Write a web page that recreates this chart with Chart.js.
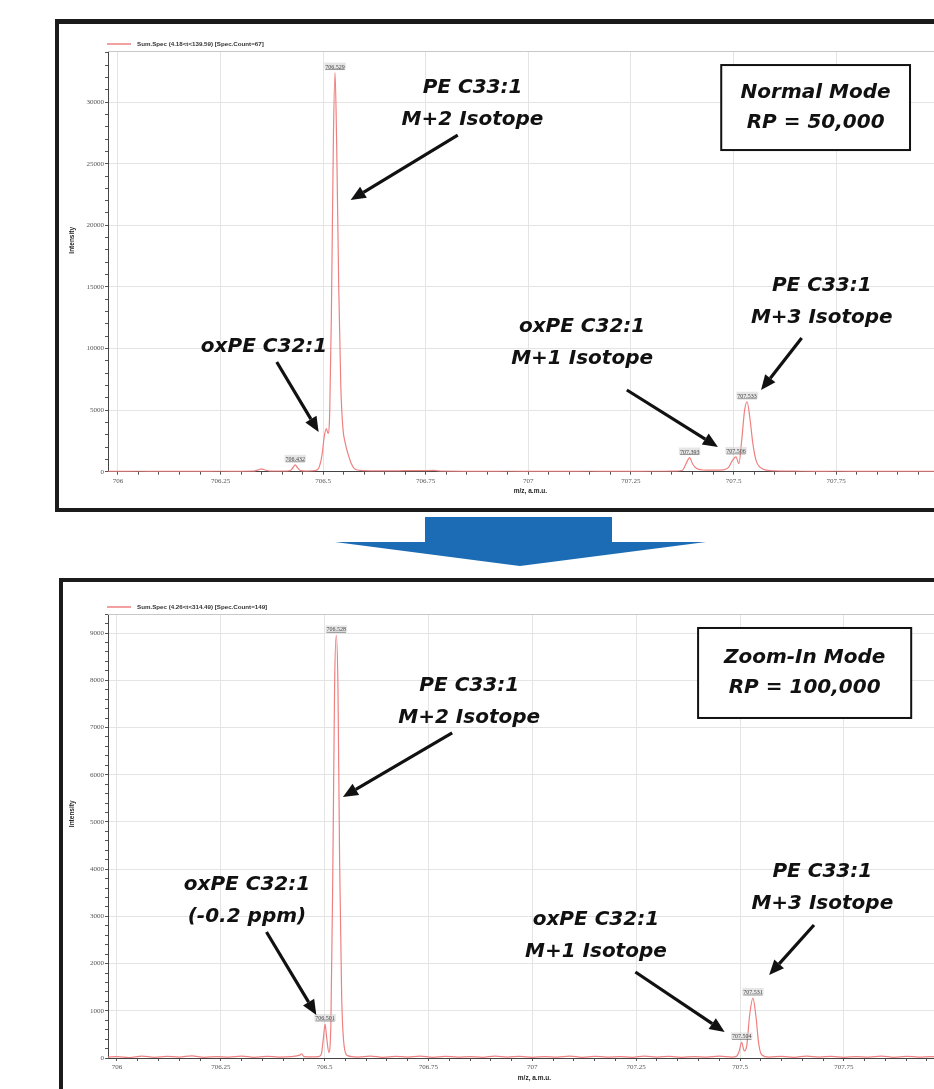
<!DOCTYPE html>
<html>
<head>
<meta charset="utf-8">
<script src="https://cdn.jsdelivr.net/npm/chart.js@4.4.1/dist/chart.umd.min.js"></script>
<style>
  html, body { margin: 0; padding: 0; background: #fff; }
  body { width: 934px; height: 1089px; overflow: hidden; position: relative; }
  .frame { position: absolute; border: 4px solid #1b1b1b; background: #fff; box-sizing: border-box; }
  #f1 { left: 55px; top: 19px; width: 940px; height: 493px; border-top-width: 5px; }
  #f2 { left: 59px; top: 578px; width: 940px; height: 560px; }
  canvas { position: absolute; }
  #c1 { left: 59px; top: 24px; }
  #c2 { left: 63px; top: 582px; }
  svg { position: absolute; left: 0; top: 0; }
</style>
</head>
<body>
<div class="frame" id="f1"></div>
<div class="frame" id="f2"></div>
<svg width="934" height="1089">
  <polygon points="425,517 612,517 612,542 706,542 520,566 335,542 425,542" fill="#1b6cb5"/>
</svg>
<canvas id="c1" width="887" height="484"></canvas>
<canvas id="c2" width="892" height="507"></canvas>

<script>
// ---- Normal mode (RP 50,000) profile spectrum: m/z and intensity ----
const normalMz = [
  705.976, 706.00, 706.05, 706.10, 706.15, 706.20, 706.25, 706.30, 706.33, 706.342,
  706.350, 706.358, 706.37, 706.40, 706.420, 706.426, 706.432, 706.438, 706.445, 706.46,
  706.48, 706.490, 706.497, 706.503, 706.508, 706.512, 706.516, 706.520, 706.525, 706.529,
  706.533, 706.538, 706.543, 706.548, 706.554, 706.561, 706.568, 706.576, 706.59, 706.62,
  706.66, 706.70, 706.74, 706.77, 706.79, 706.85, 706.90, 706.95, 707.00, 707.05,
  707.10, 707.15, 707.20, 707.25, 707.30, 707.35, 707.375, 707.385, 707.393, 707.400,
  707.41, 707.425, 707.45, 707.475, 707.488, 707.497, 707.506, 707.513, 707.520, 707.527,
  707.533, 707.540, 707.547, 707.555, 707.565, 707.58, 707.60, 707.65, 707.70, 707.75,
  707.80, 707.85, 707.90, 707.95, 708.00
];
const normalIntensity = [
  30, 25, 35, 20, 30, 25, 35, 30, 40, 150,
  230, 140, 50, 40, 90, 300, 560, 300, 90, 50,
  80, 350, 1300, 2900, 3500, 3100, 4800, 12500, 27000, 32400,
  26500, 15000, 7000, 3600, 2300, 1400, 700, 250, 110, 70,
  60, 80, 90, 100, 40, 30, 25, 35, 30, 25,
  30, 35, 25, 30, 35, 40, 120, 700, 1150, 650,
  250, 140, 120, 150, 350, 900, 1200, 650, 2600, 5000,
  5680, 4300, 2300, 900, 350, 130, 60, 40, 30, 35,
  30, 25, 30, 25, 30
];
const normalPeaks = [706.432, 706.529, 707.393, 707.506, 707.533];

// ---- Zoom-in mode (RP 100,000) profile spectrum ----
const zoomMz = [
  705.9785, 706.00, 706.03, 706.06, 706.09, 706.12, 706.15, 706.18, 706.21, 706.24,
  706.27, 706.30, 706.33, 706.36, 706.39, 706.42, 706.44, 706.445, 706.45, 706.47,
  706.485, 706.492, 706.497, 706.501, 706.505, 706.510, 706.515, 706.520, 706.524, 706.528,
  706.532, 706.536, 706.541, 706.547, 706.555, 706.58, 706.61, 706.64, 706.67, 706.70,
  706.73, 706.76, 706.79, 706.82, 706.85, 706.88, 706.91, 706.94, 706.97, 707.00,
  707.03, 707.06, 707.09, 707.12, 707.15, 707.18, 707.21, 707.24, 707.27, 707.30,
  707.33, 707.36, 707.39, 707.42, 707.45, 707.48, 707.492, 707.498, 707.504, 707.510,
  707.516, 707.523, 707.531, 707.538, 707.545, 707.552, 707.57, 707.60, 707.63, 707.66,
  707.69, 707.72, 707.75, 707.78, 707.81, 707.84, 707.87, 707.90, 707.93, 707.96,
  708.00
];
const zoomIntensity = [
  20, 30, 10, 40, 15, 35, 20, 45, 15, 30,
  20, 40, 15, 35, 20, 30, 60, 90, 30, 25,
  30, 80, 420, 720, 420, 120, 700, 4200, 7900, 8950,
  7900, 4200, 1300, 250, 50, 20, 40, 15, 35, 20,
  40, 15, 35, 20, 30, 15, 40, 20, 35, 15,
  30, 20, 40, 15, 35, 20, 30, 15, 40, 20,
  35, 15, 30, 20, 40, 20, 40, 150, 330, 150,
  250, 900, 1270, 900, 300, 70, 20, 35, 15, 40,
  20, 35, 15, 30, 20, 40, 15, 35, 20, 30,
  20
];
const zoomPeaks = [706.501, 706.528, 707.504, 707.531];

// ---- axis tick settings ----
const normalYMajor = 5000, normalYMinor = 1000;
const zoomYMajor = 1000, zoomYMinor = 200;
const mzMajor = 0.25, mzMinor = 0.05;

// ---- annotations, anchored in data space (m/z, intensity) ----
const normalNotes = [
  { lines: ['PE C33:1', 'M+2 Isotope'], mz: 706.864, at: 31140 },
  { lines: ['oxPE C32:1'], mz: 706.356, at: 10120 },
  { lines: ['oxPE C32:1', 'M+1 Isotope'], mz: 707.131, at: 11745 },
  { lines: ['PE C33:1', 'M+3 Isotope'], mz: 707.715, at: 15070 }
];
const normalArrows = [
  [706.828, 27330, 706.567, 22050],
  [706.387, 8904, 706.489, 3222],
  [707.240, 6631, 707.462, 2005],
  [707.666, 10855, 707.567, 6631]
];
const normalBox = { lines: ['Normal Mode', 'RP = 50,000'], mz: [707.470, 707.930], at: [33010, 26110] };

const zoomNotes = [
  { lines: ['PE C33:1', 'M+2 Isotope'], mz: 706.848, at: 7879 },
  { lines: ['oxPE C32:1', '(-0.2 ppm)'], mz: 706.313, at: 3664 },
  { lines: ['oxPE C32:1', 'M+1 Isotope'], mz: 707.153, at: 2923 },
  { lines: ['PE C33:1', 'M+3 Isotope'], mz: 707.698, at: 3940 }
];
const zoomArrows = [
  [706.807, 6884, 706.544, 5528],
  [706.360, 2669, 706.480, 911],
  [707.248, 1821, 707.463, 551],
  [707.678, 2817, 707.570, 1758]
];
const zoomBox = { lines: ['Zoom-In Mode', 'RP = 100,000'], mz: [707.399, 707.912], at: [9107, 7201] };

const isMultiple = (v, step) => Math.abs(v / step - Math.round(v / step)) < 1e-6;
const fmtMz = v => String(Math.round(v * 100) / 100);

// evenly spaced ticks on exact multiples of the step, inside the scale range
function stepTicks(step) {
  return scale => {
    const k0 = Math.ceil(scale.min / step - 1e-9), k1 = Math.floor(scale.max / step + 1e-9);
    const out = [];
    for (let k = k0; k <= k1; k++) out.push({ value: k * step });
    scale.ticks = out;
  };
}

function drawArrow(ctx, x0, y0, x1, y1) {
  const ang = Math.atan2(y1 - y0, x1 - x0);
  const head = 15, half = 6.5;
  const bx = x1 - head * Math.cos(ang), by = y1 - head * Math.sin(ang);
  ctx.save();
  ctx.strokeStyle = '#111';
  ctx.fillStyle = '#111';
  ctx.lineWidth = 3.2;
  ctx.beginPath();
  ctx.moveTo(x0, y0);
  ctx.lineTo(bx, by);
  ctx.stroke();
  ctx.beginPath();
  ctx.moveTo(x1, y1);
  ctx.lineTo(bx + half * Math.sin(ang), by - half * Math.cos(ang));
  ctx.lineTo(bx - half * Math.sin(ang), by + half * Math.cos(ang));
  ctx.closePath();
  ctx.fill();
  ctx.restore();
}

const overlay = {
  id: 'overlay',
  afterDatasetsDraw(chart, args, o) {
    const { ctx, chartArea: a, scales: { x, y } } = chart;
    ctx.save();

    // frame line along the top of the plot area
    ctx.strokeStyle = '#c8c8c8';
    ctx.lineWidth = 1;
    ctx.beginPath();
    ctx.moveTo(a.left, a.top + 0.5);
    ctx.lineTo(a.right, a.top + 0.5);
    ctx.stroke();

    // legend entry
    const ds = chart.data.datasets[0];
    ctx.strokeStyle = ds.borderColor;
    ctx.lineWidth = 1.5;
    ctx.beginPath();
    ctx.moveTo(a.left - 1, a.top - 7);
    ctx.lineTo(a.left + 23, a.top - 7);
    ctx.stroke();
    ctx.fillStyle = '#333';
    ctx.font = 'bold 6.2px "Liberation Sans"';
    ctx.textAlign = 'left';
    ctx.textBaseline = 'middle';
    ctx.fillText(ds.label, a.left + 29, a.top - 7);

    // axis titles
    ctx.font = 'bold 6.5px "Liberation Sans"';
    ctx.fillStyle = '#222';
    ctx.textAlign = 'center';
    ctx.fillText('m/z, a.m.u.', x.getPixelForValue(707.005), a.bottom + 20);
    ctx.save();
    ctx.translate(a.left - 36, a.top + 0.45 * (a.bottom - a.top));
    ctx.rotate(-Math.PI / 2);
    ctx.fillText('Intensity', 0, 0);
    ctx.restore();

    // peak m/z labels
    const mz = o.mz, it = o.intensity;
    ctx.font = '6px "Liberation Serif"';
    ctx.textBaseline = 'alphabetic';
    o.peaks.forEach(p => {
      const i = mz.findIndex(m => Math.abs(m - p) < 1e-9);
      const px = x.getPixelForValue(p), py = y.getPixelForValue(it[i]) - 4;
      const t = p.toFixed(3);
      const w = ctx.measureText(t).width;
      ctx.fillStyle = 'rgba(210,210,210,0.55)';
      ctx.fillRect(px - w / 2 - 1, py - 6, w + 2, 7);
      ctx.fillStyle = '#444';
      ctx.fillText(t, px, py);
      ctx.strokeStyle = '#555';
      ctx.lineWidth = 0.6;
      ctx.beginPath();
      ctx.moveTo(px - w / 2, py + 1);
      ctx.lineTo(px + w / 2, py + 1);
      ctx.stroke();
    });

    // callout text
    ctx.fillStyle = '#111';
    ctx.font = 'italic bold 20px "DejaVu Sans"';
    ctx.textAlign = 'center';
    ctx.textBaseline = 'middle';
    o.notes.forEach(n => {
      const px = x.getPixelForValue(n.mz), py = y.getPixelForValue(n.at);
      n.lines.forEach((l, k) => ctx.fillText(l, px, py + k * 32));
    });

    // arrows
    o.arrows.forEach(r => drawArrow(ctx,
      x.getPixelForValue(r[0]), y.getPixelForValue(r[1]),
      x.getPixelForValue(r[2]), y.getPixelForValue(r[3])));

    // mode box
    const b = o.box;
    const bx0 = x.getPixelForValue(b.mz[0]), bx1 = x.getPixelForValue(b.mz[1]);
    const by0 = y.getPixelForValue(b.at[0]), by1 = y.getPixelForValue(b.at[1]);
    ctx.fillStyle = '#fff';
    ctx.fillRect(bx0, by0, bx1 - bx0, by1 - by0);
    ctx.strokeStyle = '#111';
    ctx.lineWidth = 2;
    ctx.strokeRect(bx0, by0, bx1 - bx0, by1 - by0);
    ctx.fillStyle = '#111';
    const cx = (bx0 + bx1) / 2, cy = (by0 + by1) / 2;
    ctx.fillText(b.lines[0], cx, cy - 15);
    ctx.fillText(b.lines[1], cx, cy + 15);

    ctx.restore();
  }
};

function makeChart(id, cfg) {
  const points = cfg.mz.map((m, i) => ({ x: m, y: cfg.intensity[i] }));
  return new Chart(document.getElementById(id), {
    type: 'line',
    data: {
      datasets: [{
        label: cfg.label,
        data: points,
        borderColor: '#ef8080',
        borderWidth: 1.2,
        pointRadius: 0,
        fill: false,
        cubicInterpolationMode: 'monotone'
      }]
    },
    options: {
      responsive: false,
      animation: false,
      events: [],
      layout: { padding: { top: cfg.padTop, left: 0, right: 0, bottom: 0 } },
      plugins: {
        legend: { display: false },
        tooltip: { enabled: false },
        overlay: {
          mz: cfg.mz, intensity: cfg.intensity, peaks: cfg.peaks,
          notes: cfg.notes, arrows: cfg.arrows, box: cfg.box
        }
      },
      scales: {
        x: {
          type: 'linear',
          min: cfg.xMin, max: cfg.xMax,
          afterBuildTicks: stepTicks(mzMinor),
          afterFit: s => { s.height = cfg.xHeight; },
          border: { display: true, color: '#444', width: 1 },
          grid: {
            color: c => (c.tick && isMultiple(c.tick.value, mzMajor)) ? '#e4e4e4' : 'rgba(0,0,0,0)',
            tickColor: '#555', tickLength: 3, lineWidth: 1
          },
          ticks: {
            autoSkip: false, maxRotation: 0,
            padding: 2, color: '#555', font: { family: 'Liberation Serif', size: 7 },
            callback: v => isMultiple(v, mzMajor) ? fmtMz(v) : ''
          }
        },
        y: {
          min: 0, max: cfg.yMax,
          afterBuildTicks: stepTicks(cfg.yMinor),
          afterFit: s => { s.width = cfg.yWidth; },
          border: { display: true, color: '#444', width: 1 },
          grid: {
            color: c => (c.tick && isMultiple(c.tick.value, cfg.yMajor) && c.tick.value > 0) ? '#e4e4e4' : 'rgba(0,0,0,0)',
            tickColor: '#555', tickLength: 3, lineWidth: 1
          },
          ticks: {
            autoSkip: false,
            padding: 1, color: '#555', font: { family: 'Liberation Serif', size: 7 },
            callback: v => isMultiple(v, cfg.yMajor) ? String(Math.round(v)) : ''
          }
        }
      }
    },
    plugins: [overlay]
  });
}

makeChart('c1', {
  label: 'Sum.Spec (4.18<t<139.59) [Spec.Count=67]',
  mz: normalMz, intensity: normalIntensity, peaks: normalPeaks,
  notes: normalNotes, arrows: normalArrows, box: normalBox,
  xMin: 705.9758, xMax: 708.0048, yMax: 34150,
  yMajor: normalYMajor, yMinor: normalYMinor,
  padTop: 27, yWidth: 49, xHeight: 36.3
});

makeChart('c2', {
  label: 'Sum.Spec (4.26<t<314.49) [Spec.Count=149]',
  mz: zoomMz, intensity: zoomIntensity, peaks: zoomPeaks,
  notes: zoomNotes, arrows: zoomArrows, box: zoomBox,
  xMin: 705.9785, xMax: 708.0, yMax: 9403,
  yMajor: zoomYMajor, yMinor: zoomYMinor,
  padTop: 32, yWidth: 45, xHeight: 31
});
</script>
</body>
</html>
